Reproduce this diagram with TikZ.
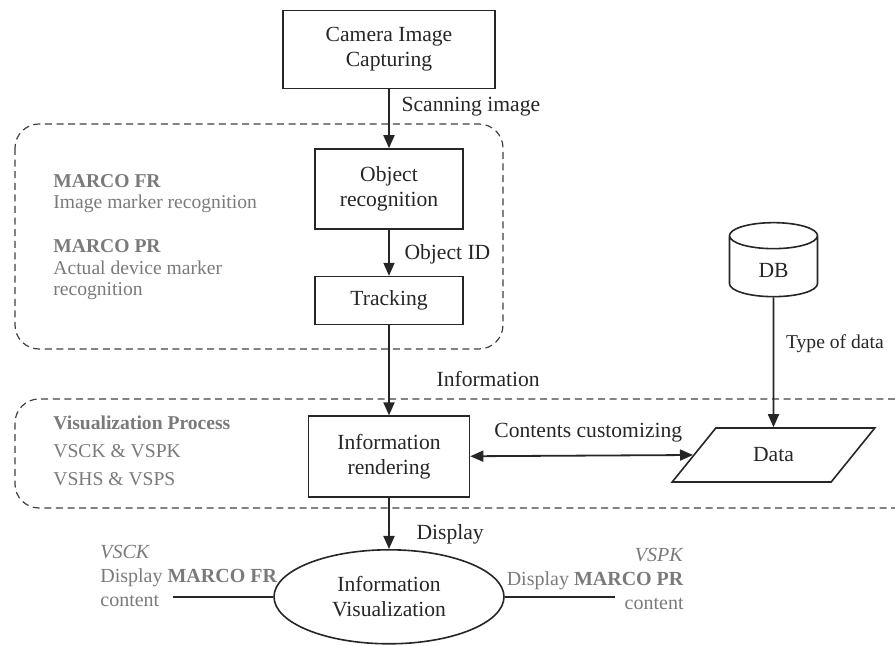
\documentclass[tikz,border=0pt]{standalone}
\usepackage{fontspec}
\setmainfont{Liberation Serif}
\usetikzlibrary{shapes.geometric, arrows.meta, positioning}

\begin{document}
\begin{tikzpicture}[
    x=0.5pt, y=-0.5pt,
    font=\fontsize{10.8}{12.5}\selectfont,
    text=black!85,
    block/.style={rectangle, draw=black!85, line width=0.8pt, align=center, inner sep=2pt},
    arrow/.style={->, >={Triangle[length=6.5pt, width=5.5pt]}, line width=0.9pt, draw=black!85},
    conn/.style={line width=0.9pt, draw=black!85},
    group_box/.style={draw=black!75, line width=0.6pt, dash pattern=on 3.5pt off 2.3pt, rounded corners=12pt},
    note/.style={text=black!52, align=left, inner sep=0pt}
]
\useasboundingbox (0,0) rectangle (895,646);

% Nodes
\node[block, minimum width=74pt, minimum height=40pt] (recog) at (389,189) {Object\\recognition};
\node[block, above=29.5pt of recog, minimum width=106pt, minimum height=39pt] (camera) {Camera Image\\Capturing};
\node[block, below=23pt of recog, minimum width=74pt, minimum height=24pt] (tracking) {Tracking};
\node[block, below=45pt of tracking, minimum width=80.5pt, minimum height=40.5pt] (render) {Information\\rendering};
\node[ellipse, draw=black!85, line width=0.8pt, align=center, inner sep=0pt, minimum width=115pt, minimum height=47pt, below=25.5pt of render] (vis) {Information\\Visualization};

\node[cylinder, shape border rotate=90, aspect=0.6, draw=black!85, line width=0.8pt, minimum width=44pt, minimum height=37pt] (db) at (773.5,270) {DB};
\node[trapezium, trapezium left angle=53.5, trapezium right angle=126.5, trapezium stretches=true, draw=black!85, line width=0.8pt, minimum width=101.5pt, minimum height=27pt] (data) at (773.5,455) {Data};

% Side notes
\node[note, anchor=west, font=\fontsize{9.8}{10.5}\selectfont] (frnote) at (53,194) {\textbf{MARCO FR}\\Image marker recognition};
\node[note, anchor=west, font=\fontsize{9.8}{10.8}\selectfont] (prnote) at (53,270) {\textbf{MARCO PR}\\Actual device marker\\recognition};
\node[note, anchor=west, font=\fontsize{9.8}{14}\selectfont] (visnote) at (53,451) {\textbf{Visualization Process}\\VSCK \& VSPK\\VSHS \& VSPS};
\node[note, anchor=west, font=\fontsize{10}{12}\selectfont] (vscknote) at (100,576) {\textit{VSCK}\\Display \textbf{MARCO FR}\\content};
\node[note, anchor=east, align=right, font=\fontsize{10}{12}\selectfont] (vspknote) at (684,579) {\textit{VSPK}\\Display \textbf{MARCO PR}\\content};

% Groups
\draw[group_box] (15,124) rectangle (503,349);
\draw[group_box] (895,399) -| (15,508) -- (895,508);

% Arrows
\draw[arrow] (camera.south -| recog) -- node[right, pos=0.3, xshift=2.5pt] {Scanning image} (recog);
\draw[arrow] (recog) -- node[right, pos=0.54, xshift=4pt] {Object ID} (tracking);
\draw[arrow] (tracking) -- node[right, pos=0.6, xshift=20pt] {Information} (render);
\draw[arrow, <->] (render) -- node[above, pos=0.53, yshift=3pt] {Contents customizing} (data.left side);
\draw[arrow] (db) -- node[right, pos=0.36, xshift=2.5pt, font=\fontsize{9.8}{11}\selectfont] {Type of data} (data);
\draw[arrow] (render) -- node[right, pos=0.72, xshift=10pt] {Display} (vis);

% Content lines
\path (vis.west) ++(-50pt,0) coordinate (lend);
\path (vis.east) ++(55pt,0) coordinate (rend);
\draw[conn] (lend) -- (vis.west);
\draw[conn] (vis.east) -- (rend);

\end{tikzpicture}
\end{document}
